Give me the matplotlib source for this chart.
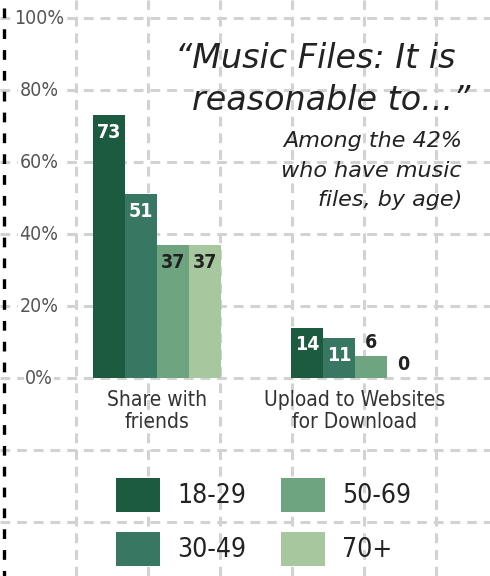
import numpy as np
import matplotlib.pyplot as plt
from matplotlib.patches import Rectangle

categories = ["Share with\nfriends", "Upload to Websites\nfor Download"]
ages = ["18-29", "30-49", "50-69", "70+"]
values = [[73, 14],
          [51, 11],
          [37, 6],
          [37, 0]]
colors = ["#1c5b3f", "#387862", "#6ea47f", "#a7c89e"]
label_colors = ["white", "white", "#222222", "#222222"]
yticks = [0, 20, 40, 60, 80, 100]

title_lines = ["\u201cMusic Files: It is", "reasonable to...\u201d"]
subtitle = "Among the 42%\nwho have music\nfiles, by age)"

cond = dict(family="DejaVu Sans", stretch="condensed")

plt.rcParams['lines.scale_dashes'] = False

W, H = 490, 576
fig = plt.figure(figsize=(W/100, H/100), dpi=100)
ax = fig.add_axes([0, 0, 1, 1])
ax.set_facecolor("white")

# 0% at pixel 378, 3.6 px per percent
ax.set_ylim(-55, 105)
# group centres at pixel 157 and 355
unit = 198.0
ax.set_xlim(-157/unit, (W-157)/unit)
for s in ax.spines.values():
    s.set_visible(False)
ax.set_xticks([])
ax.set_yticks([])

grid = dict(color="#d2d2d2", lw=2.2, linestyle=(0, (7, 5)), zorder=0)
for yy in range(-40, 101, 20):
    ax.axhline(yy, **grid)
for px in np.arange(76, W, 72):
    ax.plot([px/W, px/W], [0, 1], transform=ax.transAxes, **grid)
ax.plot([4/W, 4/W], [0, 1], transform=ax.transAxes, color="black", lw=2.4,
        linestyle=(3, (7, 8)), zorder=1)

for yy in yticks:
    ax.text(39/W, yy, f"{yy}%", transform=ax.get_yaxis_transform(), ha="center", va="center",
            fontsize=14, color="#555555", zorder=3,
            bbox=dict(facecolor="white", edgecolor="none", pad=1), **cond)

x = np.arange(len(categories))
bw = 32/unit
for i, (vals, c) in enumerate(zip(values, colors)):
    pos = x + (i - 1.5)*bw
    ax.bar(pos, vals, width=bw, color=c, zorder=2)
    for p, v in zip(pos, vals):
        if v >= 10:
            ax.text(p, v - 4.8, str(v), ha="center", va="center", fontsize=14,
                    fontweight="bold", color=label_colors[i], zorder=3, **cond)
        else:
            ax.text(p, v + 3.8, str(v), ha="center", va="center", fontsize=14,
                    fontweight="bold", color="#222222", zorder=3, **cond)

for xi, cat in zip(x, categories):
    ax.text(xi, -3.4, cat, ha="center", va="top", fontsize=15, color="#333333",
            linespacing=1.1, zorder=3, **cond)

title_style = dict(ha="right", va="center", fontsize=24, style="italic",
                   family="DejaVu Sans", color="#222222", zorder=3)
fig.text(455/W, 1 - 58/H, title_lines[0], **title_style)
fig.text(470/W, 1 - 100/H, title_lines[1], **title_style)
fig.text(462/W, 1 - 131/H, subtitle, ha="right", va="top", fontsize=16, style="italic",
         family="DejaVu Sans", color="#222222", linespacing=1.6, zorder=3)

# legend
leg_x = [116, 116, 281, 281]
leg_y = [478, 532, 478, 532]
for lx, ly, c, lab in zip(leg_x, leg_y, colors, ages):
    fig.patches.append(Rectangle((lx/W, 1 - (ly + 34)/H), 44/W, 34/H,
                                 transform=fig.transFigure, facecolor=c, edgecolor="none",
                                 zorder=3))
    fig.text((lx + 61)/W, 1 - (ly + 18)/H, lab, ha="left", va="center", fontsize=19,
             color="#222222", zorder=3, **cond)

fig.savefig("out.png", dpi=100)
